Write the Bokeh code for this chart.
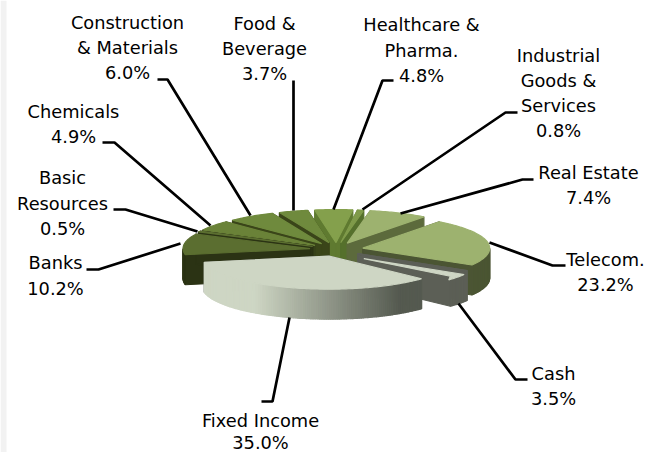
import numpy as np
from bokeh.plotting import figure
from bokeh.models import Range1d
from bokeh.core.properties import value
from bokeh.embed import file_html
from bokeh.resources import INLINE

names = ["Food &\nBeverage", "Healthcare &\nPharma.", "Industrial\nGoods &\nServices", "Real Estate", "Telecom.",
         "Cash", "Fixed Income", "Banks", "Basic\nResources", "Chemicals", "Construction\n& Materials"]
shares = [3.7, 4.8, 0.8, 7.4, 23.2, 3.5, 35.0, 10.2, 0.5, 4.9, 6.0]
top_colors = ["#6f8a3d", "#84a04c", "#7f9a4a", "#9db26f", "#9db26f", "#ced6c4", "#ced6c4", "#5b6e30", "#5b6e30", "#6a8238", "#6f8a3d"]
wall_colors = ["#3a4519", "#5f7a30", "#55702c", "#5c6a3c", "#4b5533", "#5c5f56", "#5c5f56", "#2b3314", "#2b3314", "#37421a", "#3a4519"]
label_x = [264, 421, 558, 588, 605, 553, 260, 55, 62, 73, 127]
label_y = [23, 24, 55, 172, 259, 373, 420, 262, 177, 111, 22]
label_step = [25, 25.5, 25, 25, 25, 25, 22, 26, 25.5, 25, 25]
leader_x = [[293, 293], [393, 382, 333], [517, 505, 362], [533, 522, 400], [565, 552, 489], [527, 515, 458],
            [261, 272, 289], [86, 98, 180], [113, 125, 197], [102, 114, 210], [157, 167, 250]]
leader_y = [[80, 210], [80, 80, 209], [112, 112, 209], [179, 179, 213], [265, 265, 242], [379, 379, 303],
            [401, 401, 317], [269, 269, 243], [209, 209, 231], [142, 142, 225], [79, 79, 215]]

CX, CY, RX, RY, DEPTH, EXPLODE, START = 336, 249, 127, 33, 30, 0.21, -23
fi_light, fi_dark = np.array([206, 214, 196]), np.array([85, 90, 80])

p = figure(width=664, height=452, output_backend="svg", toolbar_location=None,
           x_range=Range1d(0, 664), y_range=Range1d(452, 0), min_border=0, outline_line_color=None)
p.margin = (0, 0, 0, 0)
p.axis.visible = False
p.grid.visible = False
p.quad(left=0, right=6, top=0, bottom=452, fill_color="#f2f2f2", line_color=None)

fr = np.array(shares) / sum(shares) * 360
starts = START + np.concatenate([[0], np.cumsum(fr)[:-1]])
slices = []
for i, (a0, span) in enumerate(zip(starts, fr)):
    mid = np.radians(a0 + span / 2)
    tx = CX + EXPLODE * RX * np.sin(mid)
    ty = CY - EXPLODE * RY * np.cos(mid)
    slices.append((ty, i, a0, span, tx))
slices.sort()

xs, ys, fills = [], [], []
def add(px, py, c):
    xs.append(list(px)); ys.append(list(py)); fills.append(c)

for ty, i, a0, span, tx in slices:
    th = np.radians(np.linspace(a0, a0 + span, max(3, int(span) + 2)))
    ax = tx + RX * np.sin(th)
    ay = ty - RY * np.cos(th)
    wall = wall_colors[i]
    add([tx, ax[0], ax[0], tx], [ty, ay[0], ay[0] + DEPTH, ty + DEPTH], wall)
    add([tx, ax[-1], ax[-1], tx], [ty, ay[-1], ay[-1] + DEPTH, ty + DEPTH], wall)
    for k in range(len(th) - 1):
        if np.cos(th[k]) > 0 and np.cos(th[k + 1]) > 0:
            continue
        c = wall
        if names[i] == "Fixed Income":
            t = np.clip((ax[k] - 255) / 145, 0, 1)
            r, g, b = (fi_light + (fi_dark - fi_light) * t).astype(int)
            c = f"#{r:02x}{g:02x}{b:02x}"
        add([ax[k], ax[k + 1], ax[k + 1], ax[k]], [ay[k], ay[k + 1], ay[k + 1] + DEPTH, ay[k] + DEPTH], c)
    if names[i] == "Cash":
        add(np.r_[tx, ax], np.r_[ty, ay], wall)
        add(np.r_[tx + 6, ax[:-1] - 3, ax[-1]], np.r_[ty + 5, ay[:-1] + 4, ay[-1]], top_colors[i])
    else:
        add(np.r_[tx, ax], np.r_[ty, ay], top_colors[i])

p.patches(xs, ys, fill_color=fills, line_color=fills, line_width=1.2)
p.multi_line(leader_x, leader_y, line_color="#000000", line_width=2.7)

tx_, ty_, tt_ = [], [], []
for n, s, lx, ly, st in zip(names, shares, label_x, label_y, label_step):
    for j, line in enumerate(n.split("\n") + [f"{s:.1f}%"]):
        tx_.append(lx); ty_.append(ly + j * st); tt_.append(line)
p.text(tx_, ty_, text=tt_, text_align="center", text_baseline="middle", text_color="#000000",
       text_font=value("DejaVu Sans"), text_font_size="17.8px")

open("out.html", "w").write(file_html(p, INLINE))
